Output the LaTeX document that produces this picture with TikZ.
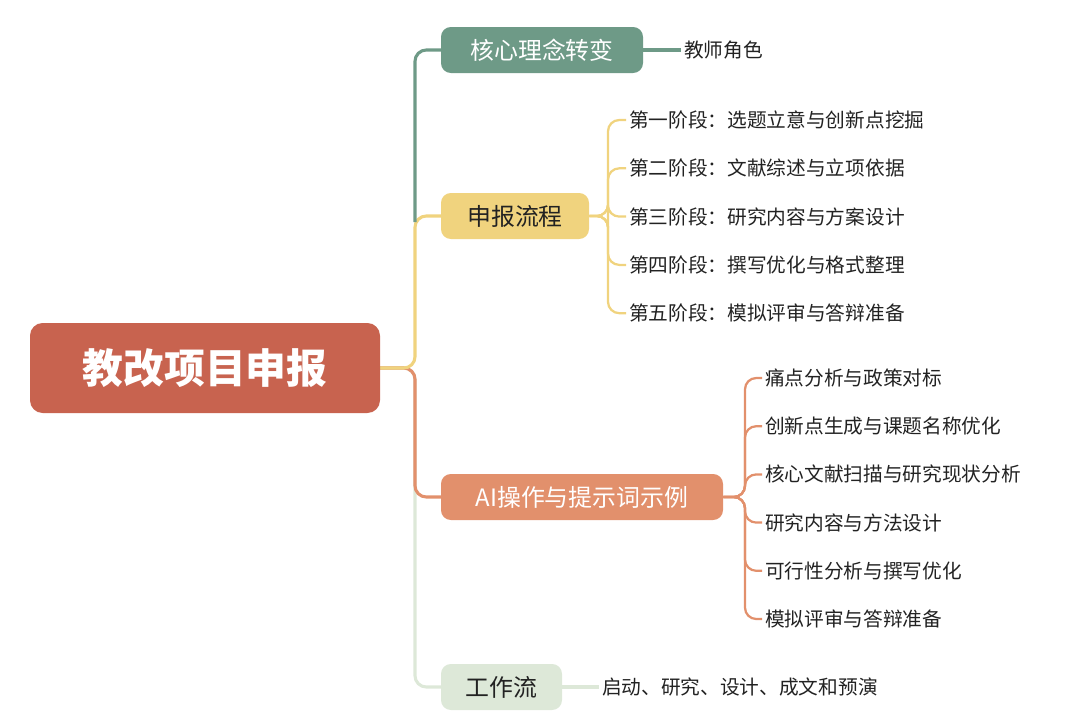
\documentclass[tikz,border=0pt]{standalone}
\usepackage{fontspec}
\setmainfont{Noto Sans CJK SC}
\definecolor{cRoot}{HTML}{C8634F}
\definecolor{cG}{HTML}{6E9A87}
\definecolor{cY}{HTML}{F0D37E}
\definecolor{cO}{HTML}{E2906C}
\definecolor{cL}{HTML}{DDE8D8}
\definecolor{tx}{HTML}{222222}
\begin{document}
\begin{tikzpicture}[x=0.025cm,y=-0.025cm,
  br/.style={rounded corners=7pt,minimum height=46*0.025cm,inner xsep=0pt,font=\fontsize{17}{20}\selectfont},
  leaf/.style={anchor=west,inner sep=2pt,text=tx,font=\fontsize{14}{17}\selectfont},
  ln/.style={line width=2.2pt,rounded corners=8pt}]
\useasboundingbox (0,0) rectangle (1080,723);
% connectors
\coordinate (rr) at (380,368);
\draw[ln,cL] (rr) -- (415,368) |- (441,687);
\draw[ln,cO] (rr) -- (415,368) |- (441,497);
\draw[ln,cY] (rr) -- (415,368) |- (441,216);
\draw[ln,cG] (415,222) |- (441,50);
% root
\node[fill=cRoot,rounded corners=9pt,minimum width=350*0.025cm,minimum height=90*0.025cm,text=white,font=\fontsize{29}{34}\selectfont\bfseries] (root) at (205,368) {教改项目申报};
% branches
\node[br,fill=cG,text=white,minimum width=202*0.025cm] (b1) at (542,50) {核心理念转变};
\node[br,fill=cY,text=tx,minimum width=148*0.025cm] (b2) at (515,216) {申报流程};
\node[br,fill=cO,text=white,minimum width=282*0.025cm] (b3) at (582,497) {AI操作与提示词示例};
\node[br,fill=cL,text=tx,minimum width=121*0.025cm] (b4) at (501.5,687) {工作流};
% leaves
\node[leaf] (l1) at (681,50) {教师角色};
\draw[ln,cG] (b1.east) -- (l1.west);
\node[leaf] (l4) at (599,687) {启动、研究、设计、成文和预演};
\draw[ln,cL] (b4.east) -- (l4.west);
\foreach \t [count=\i] in {第一阶段：选题立意与创新点挖掘,第二阶段：文献综述与立项依据,第三阶段：研究内容与方案设计,第四阶段：撰写优化与格式整理,第五阶段：模拟评审与答辩准备}{
  \node[leaf] (p\i) at (626,{120+48.3*(\i-1)}) {\t};
  \draw[ln,line width=1.6pt,cY] (b2.east) -- (608,216) |- (p\i.west);
}
\foreach \t [count=\i] in {痛点分析与政策对标,创新点生成与课题名称优化,核心文献扫描与研究现状分析,研究内容与方法设计,可行性分析与撰写优化,模拟评审与答辩准备}{
  \node[leaf] (a\i) at (762,{378+48.2*(\i-1)}) {\t};
  \draw[ln,line width=1.6pt,cO] (b3.east) -- (745,497) |- (a\i.west);
}
\end{tikzpicture}
\end{document}
